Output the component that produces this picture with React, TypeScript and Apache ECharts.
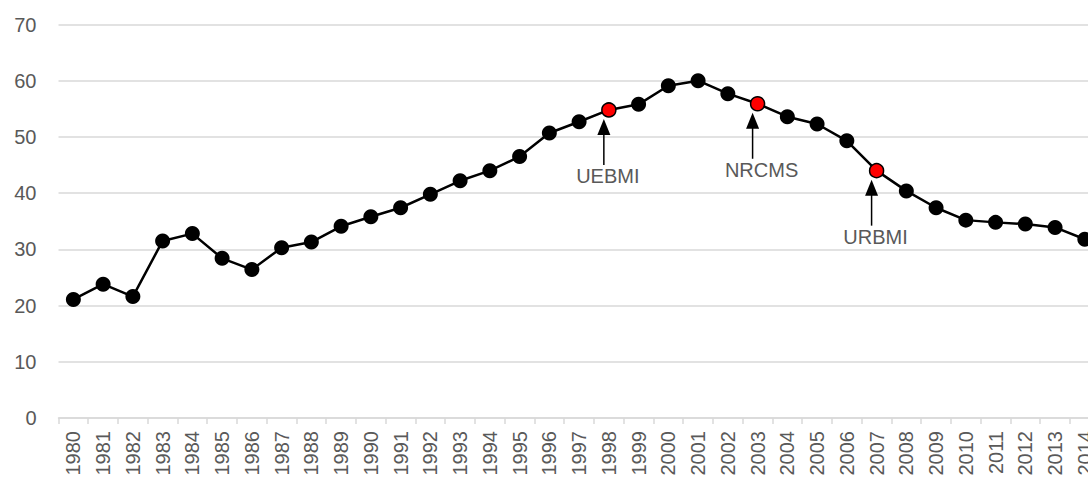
import React, { useEffect, useRef } from "react";
import * as echarts from "echarts";

const years: string[] = [
  "1980", "1981", "1982", "1983", "1984", "1985", "1986", "1987", "1988", "1989",
  "1990", "1991", "1992", "1993", "1994", "1995", "1996", "1997", "1998", "1999",
  "2000", "2001", "2002", "2003", "2004", "2005", "2006", "2007", "2008", "2009",
  "2010", "2011", "2012", "2013", "2014",
];

const values: number[] = [
  21.1, 23.8, 21.6, 31.5, 32.8, 28.4, 26.4, 30.3, 31.3, 34.1,
  35.8, 37.4, 39.8, 42.2, 44.0, 46.5, 50.7, 52.7, 54.8, 55.8,
  59.1, 60.0, 57.7, 55.9, 53.6, 52.3, 49.3, 44.0, 40.4, 37.4,
  35.2, 34.8, 34.5, 33.9, 31.8,
];

const highlightYears: string[] = ["1998", "2003", "2007"];
const annotationYears: string[] = ["1998", "2003", "2007"];
const annotationLabels: string[] = ["UEBMI", "NRCMS", "URBMI"];

const yTicks: number[] = [0, 10, 20, 30, 40, 50, 60, 70];

const FONT = "Liberation Sans, Arial, sans-serif";
const GREY = "#595959";
const LINE_GREY = "#d9d9d9";

export default function App() {
  const ref = useRef<HTMLDivElement>(null);

  useEffect(() => {
    if (!ref.current) return;
    const chart = echarts.init(ref.current, null, { renderer: "svg" });

    const data = values.map((v, i) => {
      const hl = highlightYears.includes(years[i]);
      return hl
        ? {
            value: v,
            symbolSize: 14,
            itemStyle: { color: "#ff0000", borderColor: "#000000", borderWidth: 1.5 },
          }
        : { value: v };
    });

    chart.setOption({
      animation: false,
      grid: {
        left: 58.5,
        right: -11.7,
        top: 24.5,
        bottom: 63,
        containLabel: false,
        outerBoundsMode: "none",
      },
      xAxis: {
        type: "category",
        data: years,
        boundaryGap: true,
        axisLine: { show: true, lineStyle: { color: LINE_GREY, width: 1.5 } },
        axisTick: { show: true, length: 6, lineStyle: { color: LINE_GREY, width: 1.5 } },
        axisLabel: {
          rotate: 90,
          interval: 0,
          margin: 13,
          fontSize: 20,
          fontFamily: FONT,
          color: GREY,
        },
        splitLine: { show: false },
      },
      yAxis: {
        type: "value",
        min: yTicks[0],
        max: yTicks[yTicks.length - 1],
        interval: 10,
        axisLine: { show: false },
        axisTick: { show: false },
        axisLabel: { margin: 22, fontSize: 20, fontFamily: FONT, color: GREY },
        splitLine: { show: true, lineStyle: { color: LINE_GREY, width: 1.5 } },
      },
      series: [
        {
          type: "line",
          data,
          symbol: "circle",
          symbolSize: 15,
          showAllSymbol: true,
          lineStyle: { color: "#000000", width: 2.5 },
          itemStyle: { color: "#000000" },
          emphasis: { disabled: true },
        },
      ],
    });

    const graphics: any[] = [];
    annotationYears.forEach((yr, k) => {
      const idx = years.indexOf(yr);
      const p = chart.convertToPixel({ xAxisIndex: 0, yAxisIndex: 0 }, [idx, values[idx]]) as number[];
      const ax = p[0] - 5;
      const tip = p[1] + 9;
      const headH = 16;
      const headW = 13;
      const shaftEnd = tip + 46;
      graphics.push({
        type: "polygon",
        shape: {
          points: [
            [ax, tip],
            [ax - headW / 2, tip + headH],
            [ax + headW / 2, tip + headH],
          ],
        },
        style: { fill: "#000000" },
        silent: true,
      });
      graphics.push({
        type: "line",
        shape: { x1: ax, y1: tip + headH - 1, x2: ax, y2: shaftEnd },
        style: { stroke: "#000000", lineWidth: 1.5 },
        silent: true,
      });
      graphics.push({
        type: "text",
        x: ax + (k === 1 ? 9 : 4),
        y: shaftEnd + 11,
        style: {
          text: annotationLabels[k],
          fontSize: 20,
          fontFamily: FONT,
          fill: GREY,
          align: "center",
          verticalAlign: "middle",
        },
        silent: true,
      });
    });
    chart.setOption({ graphic: graphics });

    return () => chart.dispose();
  }, []);

  return (
    <div
      ref={ref}
      style={{ position: "absolute", left: 0, top: 0, width: 1088, height: 481, background: "#ffffff" }}
    />
  );
}
